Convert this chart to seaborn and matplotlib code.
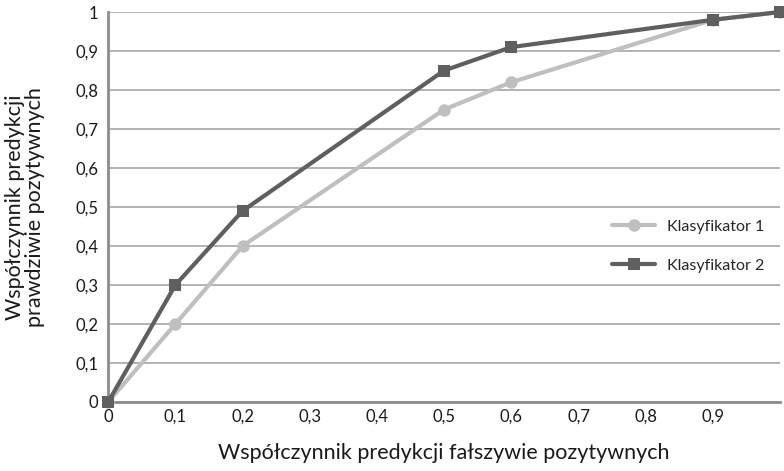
import pandas as pd
import seaborn as sns
import matplotlib.pyplot as plt
from matplotlib.ticker import FuncFormatter

fpr = [0, 0.1, 0.2, 0.5, 0.6, 0.9, 1.0]
tpr_k1 = [0, 0.2, 0.4, 0.75, 0.82, 0.98, 1.0]
tpr_k2 = [0, 0.3, 0.49, 0.85, 0.91, 0.98, 1.0]
names = ['Klasyfikator 1', 'Klasyfikator 2']

data = pd.DataFrame({
    'fpr': fpr + fpr,
    'tpr': tpr_k1 + tpr_k2,
    'klasyfikator': [names[0]] * len(fpr) + [names[1]] * len(fpr),
})

sns.set_style('white')
plt.rcParams['font.family'] = ['Lato', 'DejaVu Sans']

fig = plt.figure(figsize=(7.84, 4.71), dpi=100)
ax = fig.add_axes([0.138, 0.1465, 0.857, 0.828])

sns.lineplot(data=data, x='fpr', y='tpr', hue='klasyfikator', style='klasyfikator',
             palette=['#bfbfbf', '#5f5f5f'], markers=['o', 's'], dashes=False,
             linewidth=3, markersize=9, markeredgewidth=0, ax=ax, clip_on=False, zorder=3)

ax.set_xlim(0, 1)
ax.set_ylim(0, 1)
ax.set_xticks([i / 10 for i in range(10)])
ax.set_yticks([i / 10 for i in range(11)])
fmt = FuncFormatter(lambda v, p: ('%g' % round(v, 1)).replace('.', ','))
ax.xaxis.set_major_formatter(fmt)
ax.yaxis.set_major_formatter(fmt)
ax.yaxis.grid(True, color='#a6a6a6', linewidth=1.2)
ax.xaxis.grid(False)

for s in ['top', 'right']:
    ax.spines[s].set_visible(False)
for s in ['left', 'bottom']:
    ax.spines[s].set_color('#8c8c8c')
    ax.spines[s].set_linewidth(2)

ax.tick_params(axis='x', direction='in', length=5, color='#8c8c8c', labelsize=12, pad=5)
ax.tick_params(axis='y', length=5, color='#8c8c8c', labelsize=12, pad=2)
ax.tick_params(colors='#8c8c8c', labelcolor='#1a1a1a')

ax.set_xlabel('Współczynnik predykcji fałszywie pozytywnych', fontsize=15.5, labelpad=13, color='#1a1a1a')
ax.set_ylabel('Współczynnik predykcji\nprawdziwie pozytywnych', fontsize=15.5, labelpad=22,
              color='#1a1a1a', linespacing=1.0)

ax.legend(title=None, frameon=False, loc='center left', bbox_to_anchor=(0.729, 0.399),
          fontsize=11.5, handlelength=2.7, labelspacing=1.55, handletextpad=0.7)

plt.savefig('out.png', dpi=100)
